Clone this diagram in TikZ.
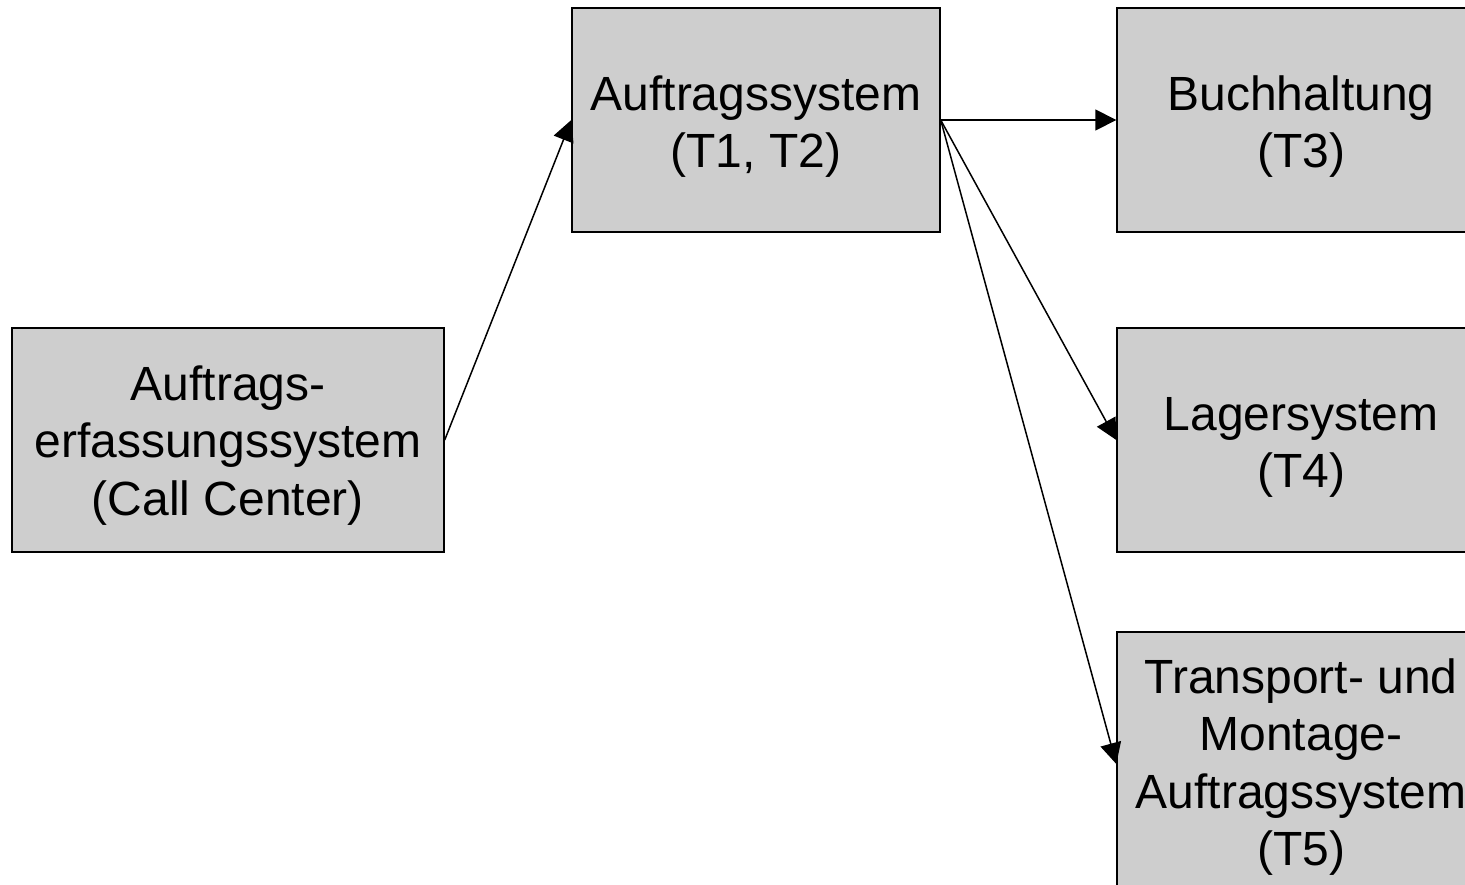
\documentclass[tikz,border=0pt]{standalone}
\usepackage{fontspec}
\setmainfont{Liberation Sans}
\usetikzlibrary{arrows.meta}
\definecolor{boxgray}{RGB}{206,206,206}
% strut that lowers the text block inside a fixed-size box
\newcommand{\toplift}[1]{\rule{0pt}{#1}}
\begin{document}
\begin{tikzpicture}[x=0.5pt,y=-0.5pt,
  sysbox/.style={draw=black, line width=0.7pt, fill=boxgray, align=center,
    inner sep=0pt, font=\fontsize{24}{28.75}\selectfont},
  flow/.style={line width=0.75pt, -{Triangle[length=10.5pt,width=10.5pt]}}]
  \clip (0,0) rectangle (1465,884);
  \useasboundingbox (0,0) rectangle (1465,884);
  \fill[white] (0,0) rectangle (1465,884);

  \node[sysbox, minimum width=216pt, minimum height=112pt] (erf) at (228,440)
    {\toplift{22.5pt}Auftrags-\\erfassungssystem\\(Call Center)};
  \node[sysbox, minimum width=184pt, minimum height=112pt] (auf) at (756,120)
    {\toplift{24pt}Auftragssystem\\(T1, T2)};
  \node[sysbox, minimum width=184pt, minimum height=112pt] (buch) at (1301,120)
    {\toplift{24pt}Buchhaltung\\(T3)};
  \node[sysbox, minimum width=184pt, minimum height=112pt] (lager) at (1301,440)
    {\toplift{24pt}Lagersystem\\(T4)};
  \node[sysbox, minimum width=184pt, minimum height=132pt] (trans) at (1301,764)
    {\toplift{20.5pt}Transport- und\\Montage-\\Auftragssystem\\(T5)};

  \draw[flow] (erf.east) -- (auf.west);
  \draw[flow] (auf.east) -- (buch.west);
  \draw[flow] (auf.east) -- (lager.west);
  \draw[flow] (auf.east) -- (trans.west);
\end{tikzpicture}
\end{document}
